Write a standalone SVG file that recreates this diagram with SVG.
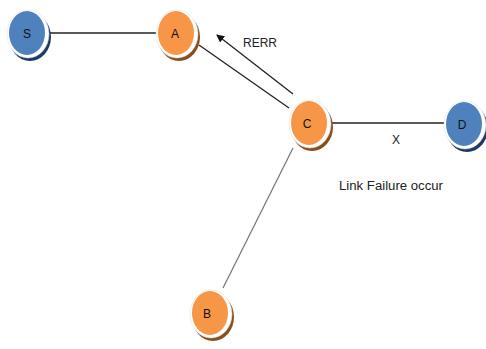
<svg xmlns="http://www.w3.org/2000/svg" width="486" height="349" viewBox="0 0 486 349">
<defs>
<style>
.lbl{font-family:"Liberation Sans",Arial,sans-serif;font-size:12px;fill:#111;text-anchor:middle}
.txt{font-family:"Liberation Sans",Arial,sans-serif;font-size:12px;fill:#222}
.ln{stroke:#222;stroke-width:1.3;fill:none}
.sh-o{fill:#8a4e1c}
.sh-b{fill:#1f3a66}
.ring{fill:#fff;stroke:#ddd;stroke-width:0.5}
.or{fill:#F79646}
.bl{fill:#4F81BD}
</style>
<marker id="ah" markerWidth="8" markerHeight="8" refX="7" refY="4" orient="auto" markerUnits="userSpaceOnUse">
<path d="M0,0 L8,4 L0,8 Z" fill="#111"/>
</marker>
</defs>
<rect width="486" height="349" fill="#fff"/>
<g id="connectors">
<line class="ln" x1="49" y1="33" x2="156" y2="33"/>
<line class="ln" x1="199" y1="45" x2="289" y2="108"/>
<line class="ln" x1="293" y1="94" x2="217" y2="35" marker-end="url(#ah)"/>
<line class="ln" x1="328" y1="123" x2="444" y2="123"/>
<line x1="293" y1="148" x2="223" y2="288" stroke="#777" stroke-width="1.3"/>
</g>
<g id="node-S">
<ellipse class="sh-b" cx="30" cy="37" rx="21" ry="24"/>
<ellipse class="ring" cx="28" cy="34" rx="21" ry="24"/>
<ellipse class="bl" cx="27" cy="33" rx="18" ry="22"/>
<text class="lbl" x="27" y="38">S</text>
</g>
<g id="node-A">
<ellipse class="sh-o" cx="179" cy="37" rx="21" ry="24"/>
<ellipse class="ring" cx="177" cy="34" rx="21" ry="24"/>
<ellipse class="or" cx="176" cy="33" rx="18" ry="22"/>
<text class="lbl" x="175" y="38">A</text>
</g>
<g id="node-C">
<ellipse class="sh-o" cx="312" cy="127" rx="21" ry="24"/>
<ellipse class="ring" cx="310" cy="124" rx="21" ry="24"/>
<ellipse class="or" cx="309" cy="123" rx="18" ry="22"/>
<text class="lbl" x="307" y="128">C</text>
</g>
<g id="node-D">
<ellipse class="sh-b" cx="467" cy="128" rx="21" ry="24"/>
<ellipse class="ring" cx="465" cy="125" rx="21" ry="24"/>
<ellipse class="bl" cx="464" cy="124" rx="18" ry="22"/>
<text class="lbl" x="462" y="129">D</text>
</g>
<g id="node-B">
<ellipse class="sh-o" cx="213" cy="317" rx="21" ry="24"/>
<ellipse class="ring" cx="211" cy="314" rx="21" ry="24"/>
<ellipse class="or" cx="210" cy="313" rx="18" ry="22"/>
<text class="lbl" x="207" y="318">B</text>
</g>
<text class="txt" x="243" y="47">RERR</text>
<text class="txt" x="392" y="144">X</text>
<text class="txt" x="339" y="190" textLength="104" lengthAdjust="spacingAndGlyphs">Link Failure occur</text>
</svg>
